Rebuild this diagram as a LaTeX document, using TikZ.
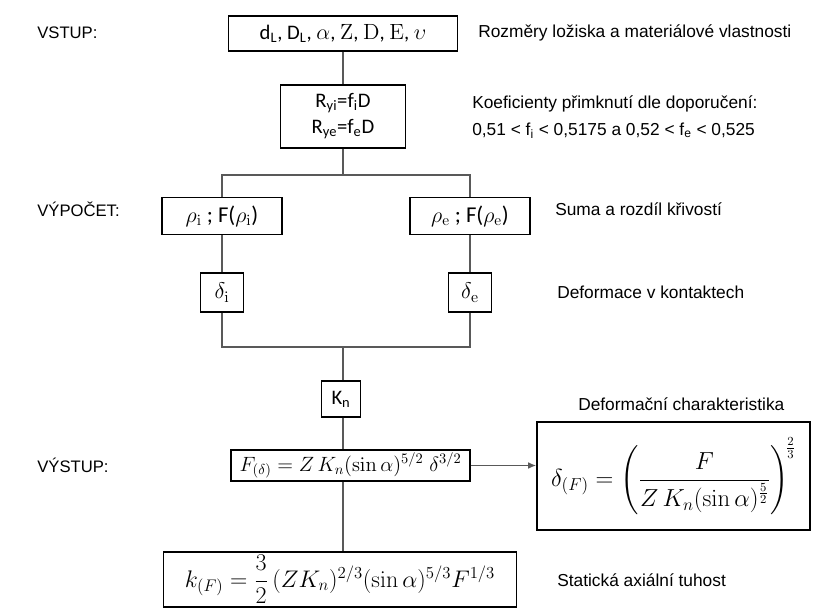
\RequirePackage{fix-cm}
\documentclass[tikz,border=0pt]{standalone}
\usepackage{amsmath}
\usepackage[no-math]{fontspec}
\setmainfont{Liberation Sans}
\newfontfamily\calfont{Carlito}
\newcommand{\fmath}[1]{{\fontsize{16.5}{19}\selectfont$#1$}}
\usetikzlibrary{arrows.meta}

\begin{document}
\begin{tikzpicture}[x=0.75pt, y=-0.75pt,
    box/.style={draw, line width=1.1pt, inner sep=2pt, align=center, font=\fontsize{15.5}{19.5}\selectfont\calfont},
    mathbox/.style={box, font=\fontsize{15.5}{18}\selectfont},
    note/.style={anchor=west, inner sep=0pt, align=left, font=\fontsize{13}{20}\selectfont},
    stage/.style={anchor=west, inner sep=0pt, font=\fontsize{12.5}{14}\selectfont},
    link/.style={black!65, line width=0.8pt}]
    \useasboundingbox (0,0) rectangle (813,609);

    \node[stage] (vstup) at (37,33) {VSTUP:};
    \node[stage] (vypocet) at (37,209) {VÝPOČET:};
    \node[stage] (vystup) at (37,465) {VÝSTUP:};

    \node[box, minimum width=172pt, minimum height=26pt] (inp) at (343,33.5)
        {d\textsubscript{L}, D\textsubscript{L}, \fmath{\alpha}, \fmath{\mathrm{Z}}, \fmath{\mathrm{D}}, \fmath{\mathrm{E}}, \fmath{\upsilon}};
    \node[box, minimum width=94pt, minimum height=47pt] (koef) at (343,116.5)
        {R\textsubscript{yi}=f\textsubscript{i}D\\R\textsubscript{ye}=f\textsubscript{e}D};
    \node[box, font=\fontsize{17}{20}\selectfont\calfont, minimum width=90pt, minimum height=28pt] (rhoi) at (222,216)
        {\fmath{\rho_\mathrm{i}} ; F(\fmath{\rho_\mathrm{i}})};
    \node[box, font=\fontsize{17}{20}\selectfont\calfont, minimum width=90pt, minimum height=28pt] (rhoe) at (470,216)
        {\fmath{\rho_\mathrm{e}} ; F(\fmath{\rho_\mathrm{e}})};
    \node[mathbox, font=\fontsize{17}{20}\selectfont, minimum width=32pt, minimum height=29pt] (deli) at (222,292.5) {$\delta_\mathrm{i}$};
    \node[mathbox, font=\fontsize{17}{20}\selectfont, minimum width=32pt, minimum height=29pt] (dele) at (470,292.5) {$\delta_\mathrm{e}$};
    \node[box, minimum width=29pt, minimum height=27pt] (kn) at (341,399) {K\textsubscript{n}};
    \node[mathbox, minimum width=179pt, minimum height=23pt] (fdel) at (350.5,465.5)
        {$F_{(\delta)} = Z\,K_n(\sin\alpha)^{5/2}\;\delta^{3/2}$};
    \node[mathbox, font=\fontsize{18.5}{22}\selectfont, minimum width=205pt, minimum height=81pt] (delf) at (673.5,476)
        {$\delta_{(F)} = \left(\dfrac{F}{Z\,K_n(\sin\alpha)^{\frac{5}{2}}}\right)^{\!\frac{2}{3}}$};
    \node[mathbox, font=\fontsize{18}{21}\selectfont, minimum width=265pt, minimum height=41pt] (kf) at (340,579.5)
        {$k_{(F)} = \dfrac{3}{2}\,(ZK_n)^{2/3}(\sin\alpha)^{5/3}F^{1/3}$};

    \node[note] (rozmery) at (478,33) {Rozměry ložiska a materiálové vlastnosti};
    \node[note] (koeftxt) at (472,117) {Koeficienty přimknutí dle doporučení:\\0,51 < f\textsubscript{i} < 0,5175 a 0,52 < f\textsubscript{e} < 0,525};
    \node[note] (suma) at (555,209) {Suma a rozdíl křivostí};
    \node[note] (deform) at (557,292) {Deformace v kontaktech};
    \node[note] (charakt) at (578,404) {Deformační charakteristika};
    \node[note] (tuhost) at (557,580) {Statická axiální tuhost};

    \coordinate (split) at (343,175);
    \coordinate (merge) at (343,347);
    \draw[link] (inp) -- (koef);
    \draw[link] (koef) -- (split);
    \draw[link] (rhoi) |- (split) -| (rhoe);
    \draw[link] (rhoi) -- (deli);
    \draw[link] (rhoe) -- (dele);
    \draw[link] (deli) |- (merge) -| (dele);
    \draw[link] (merge) -- (merge |- kn.north);
    \draw[link] (merge |- kn.south) -- (merge |- fdel.north);
    \draw[link] (merge |- fdel.south) -- (merge |- kf.north);
    \draw[link, -{Latex[length=6pt, width=5pt]}] (fdel.east) -- (fdel.east -| delf.west);
\end{tikzpicture}
\end{document}
